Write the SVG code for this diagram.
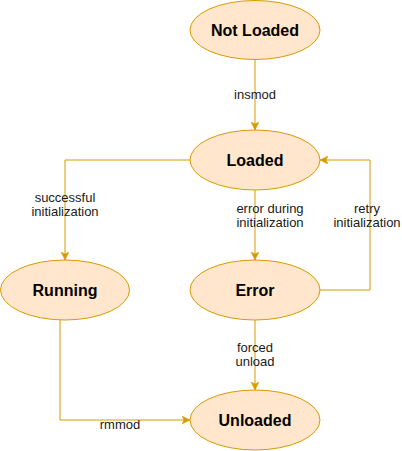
<svg xmlns="http://www.w3.org/2000/svg" width="402" height="451" viewBox="0 0 402 451">
<style>
.node ellipse{fill:#ffe6cc;stroke:#d79b00;stroke-width:1}
.node text{font-family:"Liberation Sans",Arial,sans-serif;font-size:16px;font-weight:bold;fill:#000;text-anchor:middle}
.edge path{fill:none;stroke:#d79b00;stroke-width:1}
.lbl{font-family:"Liberation Sans",Arial,sans-serif;font-size:13px;fill:#1a1a1a;text-anchor:middle}
</style>
<defs>
<marker id="arr" markerWidth="10" markerHeight="10" refX="8" refY="4" orient="auto" markerUnits="userSpaceOnUse">
<path d="M0,0 L8,4 L0,8 L2,4 z" fill="#d79b00" stroke="#d79b00" stroke-width="0.5"/>
</marker>
</defs>
<rect width="402" height="451" fill="#fff"/>
<g id="connectors">
<g class="edge" id="e-insmod"><path d="M255,60 L255,130" marker-end="url(#arr)"/><text class="lbl" x="255" y="99">insmod</text></g>
<g class="edge" id="e-success"><path d="M190,160 L65,160 L65,260" marker-end="url(#arr)"/><text class="lbl" x="65" y="202">successful</text><text class="lbl" x="65" y="216">initialization</text></g>
<g class="edge" id="e-error"><path d="M255,190 L255,260" marker-end="url(#arr)"/><text class="lbl" x="270" y="213">error during</text><text class="lbl" x="270" y="227">initialization</text></g>
<g class="edge" id="e-retry"><path d="M320,290 L370,290 L370,160 L320,160" marker-end="url(#arr)"/><text class="lbl" x="367" y="213">retry</text><text class="lbl" x="367" y="227">initialization</text></g>
<g class="edge" id="e-rmmod"><path d="M60,320 L60,420 L190,420" marker-end="url(#arr)"/><text class="lbl" x="120" y="429">rmmod</text></g>
<g class="edge" id="e-forced"><path d="M255,320 L255,390" marker-end="url(#arr)"/><text class="lbl" x="255" y="352">forced</text><text class="lbl" x="255" y="366">unload</text></g>
</g>
<g class="node" id="not-loaded"><ellipse cx="255" cy="30" rx="65" ry="29.5"/><text x="255" y="36">Not Loaded</text></g>
<g class="node" id="loaded"><ellipse cx="255" cy="160" rx="65" ry="30"/><text x="255" y="166">Loaded</text></g>
<g class="node" id="running"><ellipse cx="65" cy="290" rx="64.5" ry="30"/><text x="65" y="296">Running</text></g>
<g class="node" id="error"><ellipse cx="255" cy="290" rx="65" ry="30"/><text x="255" y="296">Error</text></g>
<g class="node" id="unloaded"><ellipse cx="255" cy="420" rx="65" ry="30"/><text x="255" y="426">Unloaded</text></g>
</svg>
